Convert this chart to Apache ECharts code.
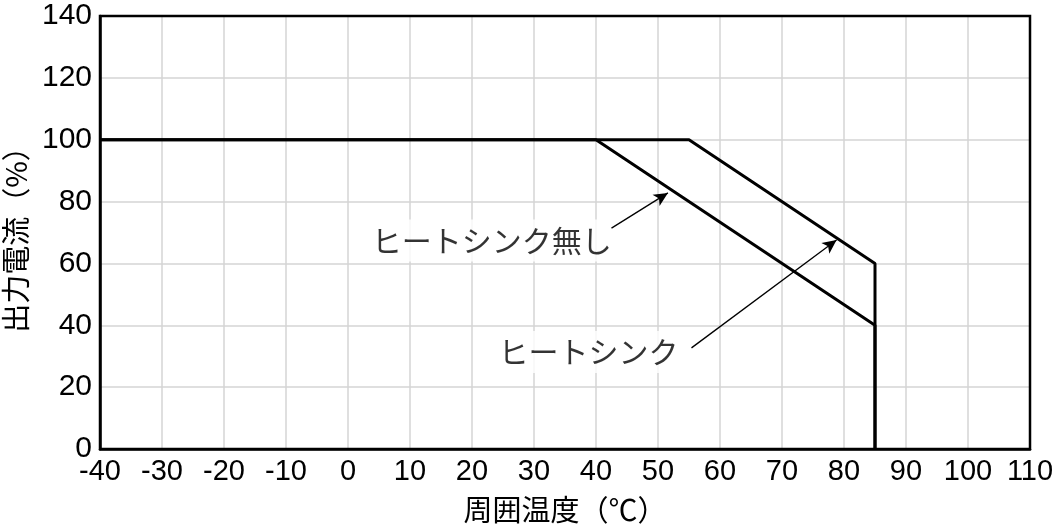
<!DOCTYPE html>
<html>
<head>
<meta charset="utf-8">
<script src="https://cdn.jsdelivr.net/npm/echarts@6/dist/echarts.min.js"></script>
<style>
  html, body { margin: 0; padding: 0; background: #fff; }
  #chart { width: 1058px; height: 525px; }
</style>
</head>
<body>
<div id="chart"></div>
<script>
// 出力ディレーティング（周囲温度 vs 出力電流）
const tempHeatSink = [-40, 55, 85, 85];
const currentHeatSink = [100, 100, 60, 0];
const tempNoSink = [-40, 40, 85, 85];
const currentNoSink = [100, 100, 40, 0];

// 注記（文字と矢印）
const noteTexts = ['ヒートシンク無し', 'ヒートシンク'];
const noteTextPos = [[23.2, 67.4], [38.8, 31.4]];
const arrowFrom = [[42.5, 71.4], [55.4, 32.7]];
const arrowTo = [[51.6, 82.8], [78.8, 67.6]];

const xName = '周囲温度（℃）';
const yName = '出力電流（%）';

const FONT = '"Noto Sans CJK JP", "Liberation Sans", sans-serif';
const NUM_FONT = '"Liberation Sans", sans-serif';

const zip = (xs, ys) => xs.map((x, i) => [x, ys[i]]);

const chart = echarts.init(document.getElementById('chart'));

chart.setOption({
  animation: false,
  backgroundColor: '#fff',
  grid: {
    left: 100, right: 28, top: 16, bottom: 76,
    outerBoundsMode: 'none', containLabel: false,
    show: true, borderColor: '#000', borderWidth: 2.5, z: 10
  },
  xAxis: {
    type: 'value', min: -40, max: 110, interval: 10,
    name: xName, nameLocation: 'middle', nameGap: 46,
    nameTextStyle: { fontFamily: FONT, fontSize: 29, color: '#000' },
    axisLine: { show: true, onZero: false, lineStyle: { color: '#000', width: 2.5 } },
    axisTick: { show: false },
    axisLabel: { fontFamily: NUM_FONT, fontSize: 29, color: '#000', margin: 8 },
    splitLine: { showMinLine: false, showMaxLine: false, lineStyle: { color: '#d4d4d4', width: 1.5 } }
  },
  yAxis: {
    type: 'value', min: 0, max: 140, interval: 20,
    name: yName, nameLocation: 'middle', nameGap: 70, nameRotate: 90,
    nameTextStyle: { fontFamily: FONT, fontSize: 29, color: '#000' },
    axisLine: { show: true, onZero: false, lineStyle: { color: '#000', width: 2.5 } },
    axisTick: { show: false },
    axisLabel: { fontFamily: NUM_FONT, fontSize: 30, color: '#000', margin: 8 },
    splitLine: { showMinLine: false, showMaxLine: false, lineStyle: { color: '#d4d4d4', width: 1.5 } }
  },
  series: [
    {
      type: 'line', data: zip(tempHeatSink, currentHeatSink),
      symbol: 'none', lineStyle: { color: '#000', width: 3 }, z: 5
    },
    {
      type: 'line', data: zip(tempNoSink, currentNoSink),
      symbol: 'none', lineStyle: { color: '#000', width: 3 }, z: 5,
      markLine: {
        silent: true,
        symbol: ['none', 'arrow'],
        symbolSize: [10, 14],
        lineStyle: { color: '#000', width: 1.3, type: 'solid' },
        label: { show: false },
        data: arrowFrom.map((p, i) => [{ coord: p }, { coord: arrowTo[i] }])
      }
    },
    {
      type: 'scatter', symbolSize: 0, z: 4,
      data: noteTextPos.map((p, i) => ({ value: p, name: noteTexts[i] })),
      label: {
        show: true, position: 'inside', formatter: '{b}',
        fontFamily: FONT, fontSize: 30, color: '#000',
        backgroundColor: '#fff', padding: [6, 8]
      }
    }
  ]
});
</script>
</body>
</html>
